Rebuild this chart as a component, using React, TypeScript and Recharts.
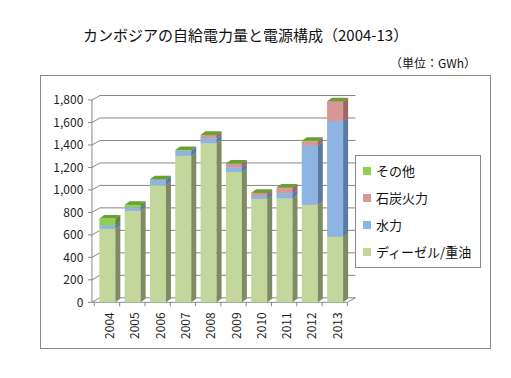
import React from 'react';
import { BarChart, Bar, XAxis, YAxis, CartesianGrid, Legend } from 'recharts';

// ---- data (GWh) ----
const YEARS = ['2004', '2005', '2006', '2007', '2008', '2009', '2010', '2011', '2012', '2013'];
const DIESEL = [655, 815, 1042, 1305, 1415, 1160, 920, 925, 868, 584];
const HYDRO = [30, 30, 48, 45, 45, 43, 27, 47, 527, 1029];
const COAL = [0, 0, 0, 0, 25, 28, 22, 44, 35, 172];
const OTHER = [60, 22, 5, 5, 5, 5, 5, 5, 7, 3];
const Y_TICKS = [0, 200, 400, 600, 800, 1000, 1200, 1400, 1600, 1800];

const SERIES = [
  { key: 'diesel', name: 'ディーゼル/重油', front: '#C3D69B', side: '#7F8B62', top: '#A4B87C' },
  { key: 'hydro', name: '水力', front: '#8DB4E2', side: '#5B7AA1', top: '#759FCF' },
  { key: 'coal', name: '石炭火力', front: '#DA9694', side: '#9C6866', top: '#C27F7D' },
  { key: 'other', name: 'その他', front: '#92D050', side: '#5E8C2C', top: '#6B9F33' },
];

const data = YEARS.map((year, i) => ({
  year,
  diesel: DIESEL[i],
  hydro: HYDRO[i],
  coal: COAL[i],
  other: OTHER[i],
}));

const FONT = '"Noto Sans CJK JP", "Noto Sans", sans-serif';
const GRID = '#878787';
const DX = 5;
const DY = 3.5;
const WALL_DX = 8;
const WALL_DY = 4.5;
const PLOT_TOP = 100;
const PLOT_BOTTOM = 302.3;
const HALF_BAND = 12.65;

const make3D = (c: any) => (props: any) => {
  const { x, y, width, height } = props;
  if (!height || height <= 0) return <g />;
  const r = x + width;
  return (
    <g>
      <rect x={x} y={y} width={width} height={height} fill={c.front} />
      <polygon
        points={`${r},${y} ${r + DX},${y - DY} ${r + DX},${y + height - DY} ${r},${y + height}`}
        fill={c.side}
      />
      <polygon points={`${x},${y} ${x + DX},${y - DY} ${r + DX},${y - DY} ${r},${y}`} fill={c.top} />
    </g>
  );
};

const gridLine = (p: any) => {
  const { x1, x2, y1, index } = p;
  const fx = x1 - 2.4;
  const isBottom = Math.abs(y1 - PLOT_BOTTOM) < 1;
  return (
    <g key={`g-${index}`}>
      <line x1={fx - 4} y1={y1} x2={fx} y2={y1} stroke={GRID} strokeWidth={1} />
      <line x1={fx} y1={y1} x2={fx + WALL_DX} y2={y1 - WALL_DY} stroke={GRID} strokeWidth={1} />
      <line x1={fx + WALL_DX} y1={y1 - WALL_DY} x2={x2 + WALL_DX} y2={y1 - WALL_DY} stroke={GRID} strokeWidth={1} />
      {isBottom && (
        <g>
          <line x1={fx} y1={PLOT_TOP} x2={fx} y2={PLOT_BOTTOM} stroke={GRID} strokeWidth={1} />
          <line x1={fx} y1={y1} x2={x2} y2={y1} stroke={GRID} strokeWidth={1} />
          <line x1={x2} y1={y1} x2={x2 + WALL_DX} y2={y1 - WALL_DY} stroke={GRID} strokeWidth={1} />
        </g>
      )}
    </g>
  );
};

const XTick = (p: any) => {
  const { x, y, payload, index } = p;
  const ty = y + 10;
  const tx = x + 1.5;
  return (
    <g>
      <line x1={x - HALF_BAND} y1={y} x2={x - HALF_BAND} y2={y + 4} stroke={GRID} />
      {index === YEARS.length - 1 && (
        <line x1={x + HALF_BAND} y1={y} x2={x + HALF_BAND} y2={y + 4} stroke={GRID} />
      )}
      <text
        x={tx}
        y={ty}
        transform={`rotate(-90, ${tx}, ${ty})`}
        textAnchor="end"
        dominantBaseline="central"
        fontSize={12}
        fontFamily={FONT}
        fill="#222"
      >
        {payload.value}
      </text>
    </g>
  );
};

const LegendBox = () => (
  <div
    style={{
      width: 124,
      height: 111,
      border: '1px solid #8a8a8a',
      background: '#fff',
      fontFamily: FONT,
      fontSize: 13,
      color: '#111',
      boxSizing: 'content-box',
      position: 'relative',
    }}
  >
    {[...SERIES].reverse().map((s, i) => (
      <div
        key={s.key}
        style={{
          position: 'absolute',
          left: 7,
          top: 6 + i * 27,
          height: 18,
          lineHeight: '18px',
          display: 'flex',
          alignItems: 'center',
          whiteSpace: 'nowrap',
        }}
      >
        <span style={{ display: 'inline-block', width: 8, height: 8, background: s.front, marginRight: 5 }} />
        <span>{s.name}</span>
      </div>
    ))}
  </div>
);

export default function App() {
  return (
    <div
      style={{
        position: 'absolute',
        left: 0,
        top: 0,
        width: 511,
        height: 378,
        background: '#fff',
        fontFamily: FONT,
      }}
    >
      <div
        style={{
          position: 'absolute',
          left: 83,
          top: 24,
          fontSize: 15,
          lineHeight: '22px',
          color: '#111',
          whiteSpace: 'nowrap',
        }}
      >
        カンボジアの自給電力量と電源構成（2004-13）
      </div>
      <div
        style={{
          position: 'absolute',
          right: 511 - 476,
          top: 54,
          fontSize: 12,
          lineHeight: '18px',
          color: '#111',
          whiteSpace: 'nowrap',
        }}
      >
        （単位：GWh）
      </div>
      <div
        style={{
          position: 'absolute',
          left: 40,
          top: 75,
          width: 449,
          height: 272,
          border: '1px solid #8a8a8a',
        }}
      />
      <div style={{ position: 'absolute', left: 0, top: 0 }}>
        <BarChart
          width={511}
          height={378}
          data={data}
          margin={{ top: PLOT_TOP, right: 163.6, bottom: 0, left: 0 }}
          barSize={16}
        >
          <CartesianGrid vertical={false} horizontal={gridLine as any} />
          <XAxis
            dataKey="year"
            height={378 - PLOT_BOTTOM}
            axisLine={false}
            tickLine={false}
            tickSize={0}
            tickMargin={0}
            interval={0}
            tick={<XTick />}
          />
          <YAxis
            width={94.35}
            domain={[0, 1800]}
            ticks={Y_TICKS}
            interval={0}
            axisLine={false}
            tickLine={false}
            tickSize={0}
            tickMargin={11}
            tickFormatter={(v: number) => v.toLocaleString('en-US')}
            tick={{ fontSize: 12, fill: '#222', fontFamily: FONT }}
          />
          <Legend
            layout="vertical"
            align="center"
            verticalAlign="middle"
            content={() => <LegendBox />}
            wrapperStyle={{ left: 355, top: 155, width: 126, height: 113 }}
          />
          {SERIES.map((s) => (
            <Bar
              key={s.key}
              dataKey={s.key}
              name={s.name}
              stackId="a"
              fill={s.front}
              isAnimationActive={false}
              shape={make3D(s) as any}
            />
          ))}
        </BarChart>
      </div>
    </div>
  );
}
